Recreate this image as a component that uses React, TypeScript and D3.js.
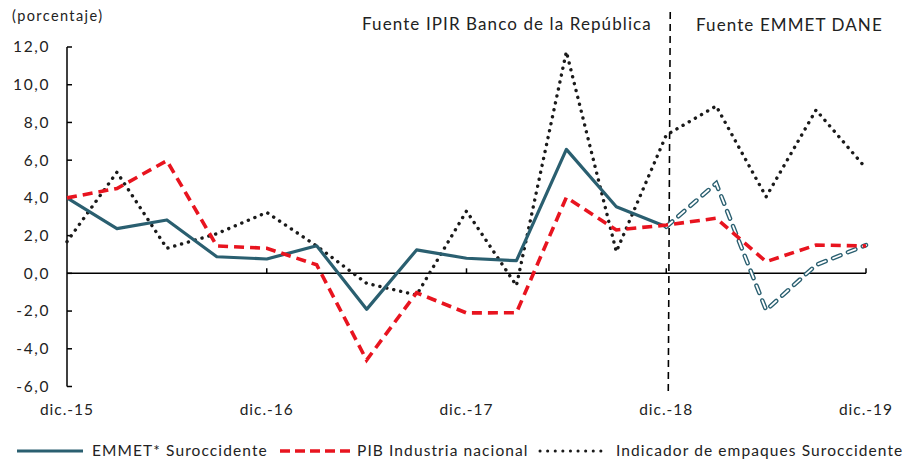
import React, { useEffect, useRef } from 'react'
import * as d3 from 'd3'

// quarters from dic.-15 to dic.-19
const quarters = d3.range(17)
const yearTicks = [0, 4, 8, 12, 16]
const yearLabels = ['dic.-15', 'dic.-16', 'dic.-17', 'dic.-18', 'dic.-19']
const yTicks = [-6, -4, -2, 0, 2, 4, 6, 8, 10, 12]

const emmetIpir = [4.0, 2.37, 2.83, 0.88, 0.76, 1.46, -1.91, 1.24, 0.8, 0.67, 6.57, 3.53, 2.47]
const emmetDane = [2.47, 4.77, -1.95, 0.44, 1.5]
const pibIndustria = [4.0, 4.5, 5.97, 1.45, 1.33, 0.45, -4.6, -1.03, -2.1, -2.09, 4.03, 2.3, 2.56, 2.92, 0.62, 1.5, 1.45]
const empaques = [1.68, 5.36, 1.33, 2.1, 3.23, 1.45, -0.53, -1.15, 3.3, -0.65, 11.75, 1.15, 7.33, 8.87, 4.06, 8.66, 5.57]

const W = 911
const H = 462
const TEAL = '#2a5f70'
const RED = '#e8141f'
const DOTS = '#1a1a1a'
const FONT = 'Lato, "Open Sans", sans-serif'

export default function App() {
    const svgRef = useRef<SVGSVGElement>(null)

    useEffect(() => {
        if (!svgRef.current) return
        const svg = d3.select(svgRef.current)
        svg.selectAll('*').remove()

        const x = d3.scaleLinear().domain([0, 16]).range([67, 866])
        const y = d3.scaleLinear().domain([-6, 12]).range([386.5, 47])

        const line = d3.line<[number, number]>()
            .x(d => x(d[0]))
            .y(d => y(d[1]))

        // y axis
        const yAxis = svg.append('g').attr('transform', `translate(${x(0)},0)`)
        yAxis.append('line')
            .attr('y1', y(12)).attr('y2', y(-6))
            .attr('stroke', '#000').attr('stroke-width', 1.5)
        yAxis.selectAll('line.tick')
            .data(yTicks)
            .enter().append('line')
            .attr('class', 'tick')
            .attr('x1', 0).attr('x2', 5)
            .attr('y1', d => y(d)).attr('y2', d => y(d))
            .attr('stroke', '#000').attr('stroke-width', 1.5)
        yAxis.selectAll('text')
            .data(yTicks)
            .enter().append('text')
            .attr('x', -17)
            .attr('y', d => y(d))
            .attr('dy', '0.35em')
            .attr('text-anchor', 'end')
            .style('font-family', FONT)
            .style('font-size', '15.5px')
            .style('letter-spacing', '1.6px')
            .style('fill', '#222')
            .text(d => d3.format('.1f')(d).replace('.', ',').replace('−', '-'))

        // x axis at zero
        const xAxis = svg.append('g').attr('transform', `translate(0,${y(0)})`)
        xAxis.append('line')
            .attr('x1', x(0)).attr('x2', x(16))
            .attr('stroke', '#000').attr('stroke-width', 1.5)
        xAxis.selectAll('line.tick')
            .data(yearTicks.slice(1))
            .enter().append('line')
            .attr('class', 'tick')
            .attr('x1', d => x(d)).attr('x2', d => x(d))
            .attr('y1', 0).attr('y2', -5)
            .attr('stroke', '#000').attr('stroke-width', 1.5)
        svg.append('g').selectAll('text')
            .data(yearTicks)
            .enter().append('text')
            .attr('x', d => x(d))
            .attr('y', 415)
            .attr('text-anchor', 'middle')
            .style('font-family', FONT)
            .style('font-size', '15.5px')
            .style('letter-spacing', '1px')
            .style('fill', '#222')
            .text((d, i) => yearLabels[i])

        // source divider
        svg.append('line')
            .attr('x1', x(12) + 4).attr('x2', x(12) + 2)
            .attr('y1', 12).attr('y2', 396)
            .attr('stroke', '#000').attr('stroke-width', 1.6)
            .attr('stroke-dasharray', '7 5')

        // series
        svg.append('path')
            .attr('d', line(empaques.map((v, i) => [quarters[i], v])))
            .attr('fill', 'none').attr('stroke', DOTS).attr('stroke-width', 3.4)
            .attr('stroke-linecap', 'round').attr('stroke-dasharray', '0.1 7')

        svg.append('path')
            .attr('d', line(emmetIpir.map((v, i) => [quarters[i], v])))
            .attr('fill', 'none').attr('stroke', TEAL).attr('stroke-width', 3.2)
            .attr('stroke-linejoin', 'round')

        const dane = line(emmetDane.map((v, i) => [quarters[i + 12], v]))
        svg.append('path')
            .attr('d', dane)
            .attr('fill', 'none').attr('stroke', TEAL).attr('stroke-width', 4.5)
            .attr('stroke-linecap', 'round').attr('stroke-dasharray', '8 8')
        svg.append('path')
            .attr('d', dane)
            .attr('fill', 'none').attr('stroke', '#fff').attr('stroke-width', 1.8)
            .attr('stroke-linecap', 'round').attr('stroke-dasharray', '8 8')

        svg.append('path')
            .attr('d', line(pibIndustria.map((v, i) => [quarters[i], v])))
            .attr('fill', 'none').attr('stroke', RED).attr('stroke-width', 3.6)
            .attr('stroke-dasharray', '10 6')

        // annotations
        const txt = (tx: number, ty: number, s: string, size: number, ls: number) =>
            svg.append('text')
                .attr('x', tx).attr('y', ty)
                .style('font-family', FONT)
                .style('font-size', `${size}px`)
                .style('letter-spacing', `${ls}px`)
                .style('fill', '#222')
                .text(s)
        txt(12, 21, '(porcentaje)', 14.5, 1.4)
        txt(362, 30, 'Fuente  IPIR Banco de la República', 17, 1.1)
        txt(696, 31, 'Fuente  EMMET DANE', 17, 1.1)

        // legend
        const legend = svg.append('g').attr('transform', 'translate(0,451)')
        legend.append('line').attr('x1', 17).attr('x2', 83)
            .attr('stroke', TEAL).attr('stroke-width', 3.2)
        legend.append('line').attr('x1', 280).attr('x2', 350)
            .attr('stroke', RED).attr('stroke-width', 3.5).attr('stroke-dasharray', '10 5')
        legend.append('line').attr('x1', 540).attr('x2', 606)
            .attr('stroke', DOTS).attr('stroke-width', 3)
            .attr('stroke-linecap', 'round').attr('stroke-dasharray', '0.1 7.5')
        const legendItems: [number, string][] = [
            [92, 'EMMET* Suroccidente'],
            [357, 'PIB Industria nacional'],
            [616, 'Indicador de empaques Suroccidente'],
        ]
        legend.selectAll('text')
            .data(legendItems)
            .enter().append('text')
            .attr('x', d => d[0])
            .attr('dy', '0.35em')
            .style('font-family', FONT)
            .style('font-size', '15.5px')
            .style('letter-spacing', '1.1px')
            .style('fill', '#222')
            .text(d => d[1])
    }, [])

    return (
        <svg
            ref={svgRef}
            width={W}
            height={H}
            style={{ position: 'absolute', left: 0, top: 0, background: '#fff' }}
        />
    )
}
